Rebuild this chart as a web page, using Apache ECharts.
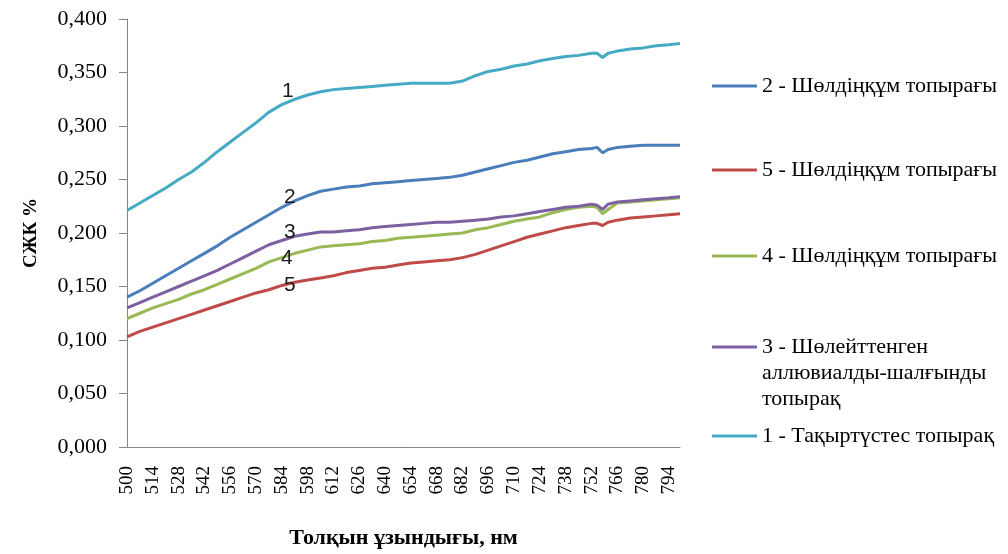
<!DOCTYPE html>
<html>
<head>
<meta charset="utf-8">
<script src="https://cdn.jsdelivr.net/npm/echarts@6/dist/echarts.min.js"></script>
<style>
  html, body { margin: 0; padding: 0; background: #ffffff; }
  #chart { width: 1008px; height: 554px; }
</style>
</head>
<body>
<div id="chart"></div>
<script>
// Wavelength axis, 1 nm steps from 500 to 800 nm
const wavelengths = [];
for (let nm = 500; nm <= 800; nm++) wavelengths.push(String(nm));

// Wavelengths at which the spectra are sampled
const sampleNm = [500, 507, 514, 521, 528, 535, 542, 549, 556, 563, 570, 577, 584, 591, 598, 605,
  612, 619, 626, 633, 640, 647, 654, 661, 668, 675, 682, 689, 696, 703, 710, 717, 724, 731, 738,
  745, 752, 755, 758, 761, 766, 773, 780, 787, 794, 800];

// 1 - Тақыртүстес топырақ
const soil1 = [0.221, 0.228, 0.235, 0.242, 0.250, 0.257, 0.266, 0.276, 0.285, 0.294, 0.303, 0.313,
  0.320, 0.325, 0.329, 0.332, 0.334, 0.335, 0.336, 0.337, 0.338, 0.339, 0.340, 0.340, 0.340, 0.340,
  0.342, 0.347, 0.351, 0.353, 0.356, 0.358, 0.361, 0.363, 0.365, 0.366, 0.368, 0.368, 0.364, 0.368,
  0.370, 0.372, 0.373, 0.375, 0.376, 0.377];

// 2 - Шөлдіңқұм топырағы
const soil2 = [0.140, 0.146, 0.153, 0.160, 0.167, 0.174, 0.181, 0.188, 0.196, 0.203, 0.210, 0.217,
  0.224, 0.230, 0.235, 0.239, 0.241, 0.243, 0.244, 0.246, 0.247, 0.248, 0.249, 0.250, 0.251, 0.252,
  0.254, 0.257, 0.260, 0.263, 0.266, 0.268, 0.271, 0.274, 0.276, 0.278, 0.279, 0.280, 0.275, 0.278,
  0.280, 0.281, 0.282, 0.282, 0.282, 0.282];

// 3 - Шөлейттенген аллювиалды-шалғынды топырақ
const soil3 = [0.130, 0.135, 0.140, 0.145, 0.150, 0.155, 0.160, 0.165, 0.171, 0.177, 0.183, 0.189,
  0.193, 0.197, 0.199, 0.201, 0.201, 0.202, 0.203, 0.205, 0.206, 0.207, 0.208, 0.209, 0.210, 0.210,
  0.211, 0.212, 0.213, 0.215, 0.216, 0.218, 0.220, 0.222, 0.224, 0.225, 0.227, 0.226, 0.222, 0.227,
  0.229, 0.230, 0.231, 0.232, 0.233, 0.234];

// 4 - Шөлдіңқұм топырағы
const soil4 = [0.120, 0.125, 0.130, 0.134, 0.138, 0.143, 0.147, 0.152, 0.157, 0.162, 0.167, 0.173,
  0.177, 0.181, 0.184, 0.187, 0.188, 0.189, 0.190, 0.192, 0.193, 0.195, 0.196, 0.197, 0.198, 0.199,
  0.200, 0.203, 0.205, 0.208, 0.211, 0.213, 0.215, 0.219, 0.222, 0.224, 0.225, 0.224, 0.218, 0.222,
  0.228, 0.229, 0.230, 0.231, 0.232, 0.233];

// 5 - Шөлдіңқұм топырағы
const soil5 = [0.103, 0.108, 0.112, 0.116, 0.120, 0.124, 0.128, 0.132, 0.136, 0.140, 0.144, 0.147,
  0.151, 0.154, 0.156, 0.158, 0.160, 0.163, 0.165, 0.167, 0.168, 0.170, 0.172, 0.173, 0.174, 0.175,
  0.177, 0.180, 0.184, 0.188, 0.192, 0.196, 0.199, 0.202, 0.205, 0.207, 0.209, 0.209, 0.207, 0.210,
  0.212, 0.214, 0.215, 0.216, 0.217, 0.218];

// Y axis ticks
const yMin = 0, yMax = 0.4, yStep = 0.05;

// Legend entries, in the order they are listed
const legendNames = [
  '2 - Шөлдіңқұм топырағы',
  '5 - Шөлдіңқұм топырағы ',
  '4 - Шөлдіңқұм топырағы  ',
  '3 - Шөлейттенген\nаллювиалды-шалғынды\nтопырақ',
  '1 - Тақыртүстес топырақ'
];

// Number tag written next to each curve, and the wavelength where it sits
const tagNm = '584';

const serif = 'Liberation Serif';

function buildData(values, tag, offset) {
  return sampleNm.map((nm, i) => {
    const item = { value: [String(nm), values[i]] };
    if (String(nm) === tagNm) {
      item.label = {
        show: true,
        formatter: tag,
        position: 'inside',
        offset: offset,
        fontFamily: 'Liberation Sans',
        fontSize: 21,
        color: '#1a1a1a'
      };
    }
    return item;
  });
}

const seriesDefs = [
  { name: legendNames[0], values: soil2, color: '#4a7ebb', tag: '2', offset: [8, -10] },
  { name: legendNames[1], values: soil5, color: '#be4b48', tag: '5', offset: [8, 0] },
  { name: legendNames[2], values: soil4, color: '#98b954', tag: '4', offset: [5, 1] },
  { name: legendNames[3], values: soil3, color: '#7d60a0', tag: '3', offset: [8, -8] },
  { name: legendNames[4], values: soil1, color: '#46aac5', tag: '1', offset: [6, -13] }
];

// Vertical centre of each legend row (first text line)
const legendRows = [86, 170, 256, 347, 436];
const legendLine = 26;

const legends = legendNames.map((name, i) => {
  const multi = name.indexOf('\n') >= 0;
  return {
    data: [name],
    orient: 'vertical',
    left: 712,
    // a multi-line entry is padded with two empty lines on top so that its
    // first line sits level with the colour key
    top: multi ? legendRows[i] - legendLine * 2.5 : legendRows[i] - legendLine / 2,
    icon: 'rect',
    itemWidth: 45,
    itemHeight: 3,
    padding: 0,
    selectedMode: false,
    formatter: n => (n.indexOf('\n') >= 0 ? '\n\n' + n : n),
    textStyle: {
      fontFamily: serif,
      fontSize: 22,
      lineHeight: legendLine,
      color: '#000'
    }
  };
});

const chart = echarts.init(document.getElementById('chart'), null, { renderer: 'canvas' });

chart.setOption({
  animation: false,
  backgroundColor: '#ffffff',
  grid: { left: 127, right: 328, top: 19, bottom: 106, containLabel: false },
  legend: legends,
  xAxis: {
    type: 'category',
    data: wavelengths,
    boundaryGap: false,
    name: 'Толқын ұзындығы, нм',
    nameLocation: 'middle',
    nameGap: 80,
    nameTextStyle: { fontFamily: serif, fontSize: 22, fontWeight: 'bold', color: '#000' },
    axisLine: { lineStyle: { color: '#868686', width: 1 } },
    axisTick: { show: false },
    axisLabel: {
      interval: 13,
      rotate: 90,
      margin: 19,
      fontFamily: serif,
      fontSize: 19,
      color: '#000'
    },
    splitLine: { show: false }
  },
  yAxis: {
    type: 'value',
    min: yMin,
    max: yMax,
    interval: yStep,
    name: 'СЖК %',
    nameLocation: 'middle',
    nameGap: 86,
    nameTextStyle: { fontFamily: serif, fontSize: 19, fontWeight: 'bold', color: '#000' },
    axisLine: { show: true, lineStyle: { color: '#868686', width: 1 } },
    axisTick: { show: true, length: 8, lineStyle: { color: '#868686' } },
    axisLabel: {
      margin: 20,
      fontFamily: serif,
      fontSize: 22,
      color: '#000',
      formatter: v => v.toFixed(3).replace('.', ',')
    },
    splitLine: { show: false }
  },
  series: seriesDefs.map(s => ({
    name: s.name,
    type: 'line',
    data: buildData(s.values, s.tag, s.offset),
    color: s.color,
    symbol: 'circle',
    symbolSize: 0,
    showSymbol: true,
    showAllSymbol: true,
    smooth: false,
    lineStyle: { width: 3, color: s.color },
    itemStyle: { color: s.color },
    emphasis: { disabled: true }
  }))
});
</script>
</body>
</html>
